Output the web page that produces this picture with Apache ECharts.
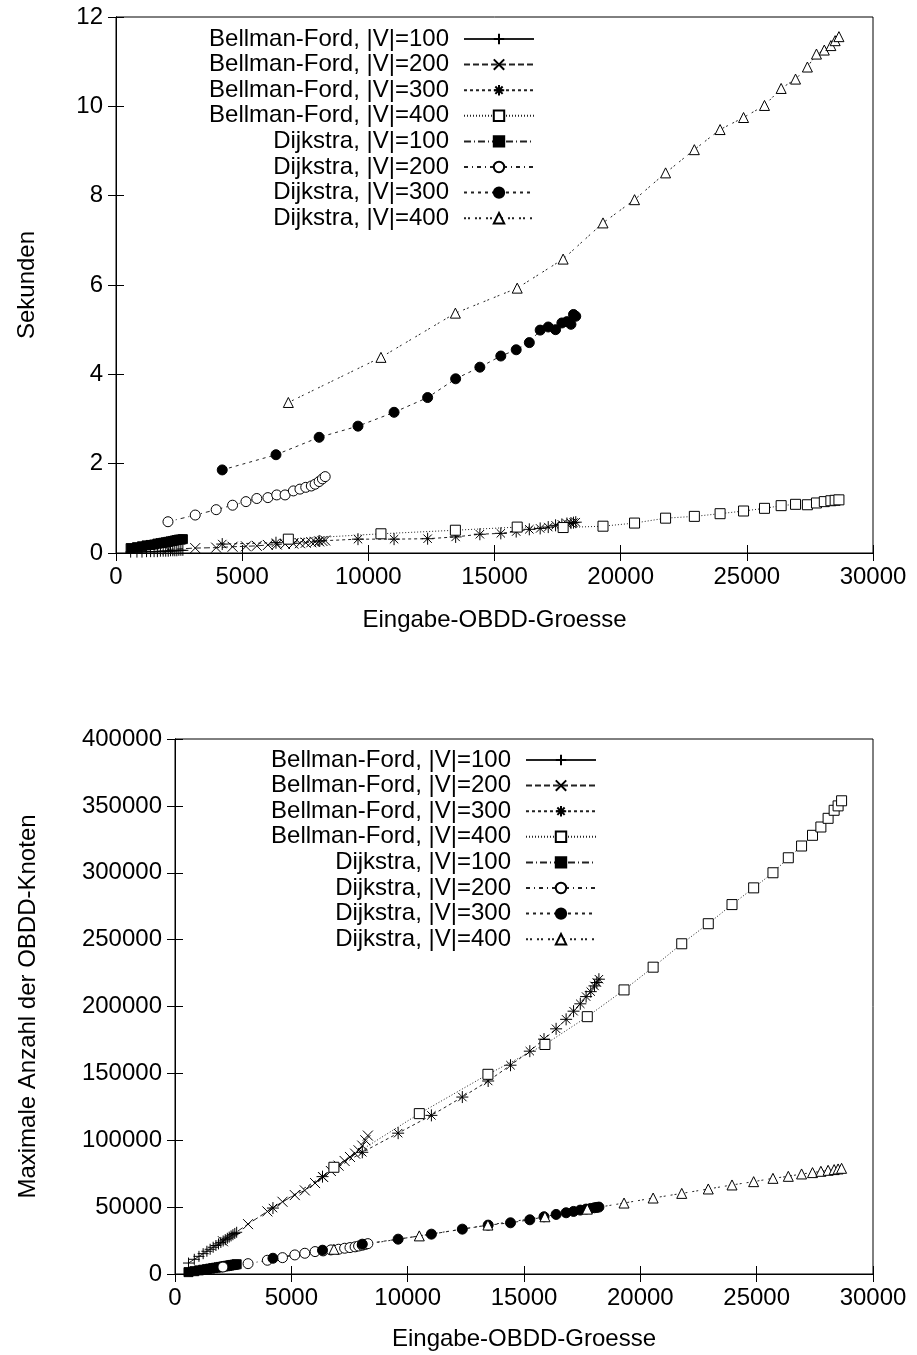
<!DOCTYPE html>
<html>
<head>
<meta charset="utf-8">
<script src="https://cdn.jsdelivr.net/npm/echarts@6/dist/echarts.min.js"></script>
<style>
  html, body { margin: 0; padding: 0; background: #fff; }
  #main { width: 917px; height: 1355px; }
</style>
</head>
<body>
<div id="main"></div>
<script>
// x-Werte (Eingabe-OBDD-Groesse) je Knotenzahl
var x100 = [580, 830, 1030, 1210, 1370, 1510, 1640, 1760, 1870, 1970, 2070, 2160, 2250, 2330, 2410, 2490, 2570, 2650];
var x200 = [2060, 3140, 3970, 4620, 5150, 5580, 6020, 6370, 6700, 7030, 7290, 7520, 7740, 7890, 8050, 8180, 8290];
var x300 = [4210, 6340, 8050, 9590, 11020, 12350, 13460, 14420, 15250, 15860, 16380, 16810, 17130, 17420, 17670, 17870, 18030, 18130, 18220];
var x400 = [6830, 10500, 13450, 15900, 17720, 19300, 20550, 21780, 22920, 23940, 24870, 25700, 26360, 26930, 27400, 27760, 28070, 28330, 28500, 28650];

// Laufzeit in Sekunden
var secBF100 = [0.02, 0.02, 0.02, 0.03, 0.03, 0.03, 0.03, 0.04, 0.04, 0.04, 0.04, 0.05, 0.05, 0.05, 0.05, 0.06, 0.06, 0.06];
var secBF200 = [0.08, 0.11, 0.12, 0.14, 0.15, 0.16, 0.18, 0.19, 0.20, 0.21, 0.22, 0.23, 0.24, 0.25, 0.26, 0.27, 0.28];
var secBF300 = [0.20, 0.23, 0.27, 0.31, 0.31, 0.32, 0.36, 0.42, 0.44, 0.48, 0.53, 0.55, 0.58, 0.62, 0.64, 0.66, 0.67, 0.68, 0.69];
var secBF400 = [0.31, 0.43, 0.51, 0.58, 0.57, 0.60, 0.67, 0.78, 0.82, 0.88, 0.94, 1.00, 1.06, 1.09, 1.08, 1.12, 1.15, 1.17, 1.18, 1.19];
var secD100 = [0.11, 0.13, 0.15, 0.17, 0.18, 0.19, 0.21, 0.22, 0.23, 0.24, 0.25, 0.26, 0.27, 0.28, 0.29, 0.30, 0.30, 0.31];
var secD200 = [0.70, 0.85, 0.97, 1.07, 1.15, 1.22, 1.24, 1.30, 1.30, 1.39, 1.43, 1.47, 1.50, 1.54, 1.60, 1.66, 1.71];
var secD300 = [1.86, 2.20, 2.59, 2.84, 3.15, 3.48, 3.90, 4.16, 4.41, 4.55, 4.71, 4.99, 5.06, 5.00, 5.15, 5.18, 5.12, 5.34, 5.30];
var secD400 = [3.37, 4.38, 5.37, 5.93, 6.58, 7.39, 7.91, 8.51, 9.03, 9.48, 9.75, 10.02, 10.40, 10.61, 10.88, 11.17, 11.26, 11.36, 11.47, 11.56];

// maximale Anzahl der OBDD-Knoten
var nodBF100 = [8200, 11000, 13200, 15200, 17000, 18500, 20000, 21300, 22500, 23600, 24700, 25700, 26700, 27600, 28500, 29400, 30300, 31200];
var nodBF200 = [24500, 37300, 46800, 54000, 59000, 62500, 68000, 72500, 77000, 81000, 84500, 87500, 90000, 92500, 96000, 100000, 103500];
var nodBF300 = [49300, 72800, 91000, 105300, 118600, 132300, 144300, 156100, 166600, 175600, 183300, 190400, 196500, 202000, 207400, 211100, 215400, 217900, 220400];
var nodBF400 = [79800, 119900, 149300, 171600, 192400, 212400, 229400, 246900, 261900, 276200, 288700, 300000, 311200, 320000, 328000, 334200, 340700, 346700, 350000, 353800];
var nodD100 = [1400, 2100, 2700, 3200, 3600, 4000, 4400, 4700, 5000, 5300, 5600, 5800, 6100, 6300, 6600, 6800, 7000, 7300];
var nodD200 = [5200, 7730, 10280, 12230, 14260, 15510, 16760, 17260, 18010, 18510, 19260, 19760, 20300, 20900, 21500, 22100, 22700];
var nodD300 = [11780, 17790, 22300, 26040, 29790, 33540, 36550, 38280, 40530, 42780, 44530, 45780, 46780, 47780, 48530, 49030, 49530, 49780, 50030];
var nodD400 = [18500, 28500, 36600, 42800, 48500, 53060, 56800, 60270, 63570, 66570, 69050, 71530, 73030, 74800, 75800, 76780, 77530, 78050, 78550, 79030];

var names = [
  "Bellman-Ford, |V|=100", "Bellman-Ford, |V|=200", "Bellman-Ford, |V|=300", "Bellman-Ford, |V|=400",
  "Dijkstra, |V|=100", "Dijkstra, |V|=200", "Dijkstra, |V|=300", "Dijkstra, |V|=400"
];

var FONT = "Liberation Sans";
var FS = 24;

// gnuplot-artige Punkt- und Linientypen
var styles = [
  { symbol: "path://M0,5L10,5M5,0L5,10", fill: "#000", size: 11, dash: "solid" },
  { symbol: "path://M0,0L10,10M10,0L0,10", fill: "#000", size: 10, dash: [6, 3] },
  { symbol: "path://M0,5L10,5M5,0L5,10M1.5,1.5L8.5,8.5M8.5,1.5L1.5,8.5", fill: "#000", size: 12, dash: [3, 3] },
  { symbol: "rect", fill: "#fff", size: 10, dash: [1, 2] },
  { symbol: "rect", fill: "#000", size: 9, dash: [7, 3, 1, 3] },
  { symbol: "circle", fill: "#fff", size: 10, dash: [4, 4, 1, 4] },
  { symbol: "circle", fill: "#000", size: 10, dash: [3, 4] },
  { symbol: "triangle", fill: "#fff", size: 10, dash: [2, 2, 2, 5] }
];

function zip(xs, ys) {
  return xs.map(function (x, i) { return [x, ys[i]]; });
}

function makeSeries(idx, lists) {
  var xs = [x100, x200, x300, x400, x100, x200, x300, x400];
  return lists.map(function (ys, i) {
    var s = styles[i];
    return {
      name: names[i],
      type: "line",
      xAxisIndex: idx * 2,
      yAxisIndex: idx * 2,
      data: zip(xs[i], ys),
      symbol: s.symbol,
      symbolSize: s.size,
      showAllSymbol: true,
      lineStyle: { color: "#222", width: 1, type: s.dash },
      itemStyle: { color: s.fill, borderColor: "#000", borderWidth: 1 },
      emphasis: { disabled: true }
    };
  });
}

function plain(v) { return String(v); }

function xAxes(grid, nameGap) {
  var base = {
    gridIndex: grid, type: "value", min: 0, max: 30000, interval: 5000,
    splitLine: { show: false },
    axisLine: { show: true, lineStyle: { color: "#000", width: 1 } },
    axisTick: { show: true, inside: true, length: 8, lineStyle: { color: "#000" } }
  };
  return [
    Object.assign({}, base, {
      position: "bottom",
      name: "Eingabe-OBDD-Groesse", nameLocation: "middle", nameGap: nameGap,
      nameTextStyle: { fontFamily: FONT, fontSize: FS, color: "#000" },
      axisLabel: { fontFamily: FONT, fontSize: FS, color: "#000", margin: 12, formatter: plain }
    }),
    Object.assign({}, base, { position: "top", axisLabel: { show: false } })
  ];
}

function yAxes(grid, max, interval, name, nameGap) {
  var base = {
    gridIndex: grid, type: "value", min: 0, max: max, interval: interval,
    splitLine: { show: false },
    axisLine: { show: true, lineStyle: { color: "#000", width: 1 } },
    axisTick: { show: true, inside: true, length: 8, lineStyle: { color: "#000" } }
  };
  return [
    Object.assign({}, base, {
      position: "left",
      name: name, nameLocation: "middle", nameGap: nameGap, nameRotate: 90,
      nameTextStyle: { fontFamily: FONT, fontSize: FS, color: "#000" },
      axisLabel: { fontFamily: FONT, fontSize: FS, color: "#000", margin: 13, formatter: plain }
    }),
    Object.assign({}, base, { position: "right", axisLabel: { show: false } })
  ];
}

function legend(right, top) {
  return {
    data: names,
    orient: "vertical",
    align: "right",
    right: right,
    top: top,
    padding: 0,
    itemWidth: 70,
    itemHeight: 13,
    itemGap: 1.6,
    selectedMode: false,
    textStyle: { fontFamily: FONT, fontSize: FS, lineHeight: 24, color: "#000", padding: [0, 10, 0, 0] }
  };
}

var chart = echarts.init(document.getElementById("main"), null, { renderer: "canvas" });

var option = {
  animation: false,
  backgroundColor: "#fff",
  grid: [
    { left: 116, top: 17, width: 757, height: 536, show: true, borderColor: "#000", borderWidth: 1, backgroundColor: "transparent" },
    { left: 175, top: 739, width: 698, height: 535, show: true, borderColor: "#000", borderWidth: 1, backgroundColor: "transparent" }
  ],
  xAxis: xAxes(0, 55).concat(xAxes(1, 53)),
  yAxis: yAxes(0, 12, 2, "Sekunden", 77).concat(yAxes(1, 400000, 50000, "Maximale Anzahl der OBDD-Knoten", 135)),
  legend: [legend(382, 27), legend(320, 748)],
  series: makeSeries(0, [secBF100, secBF200, secBF300, secBF400, secD100, secD200, secD300, secD400])
    .concat(makeSeries(1, [nodBF100, nodBF200, nodBF300, nodBF400, nodD100, nodD200, nodD300, nodD400]))
};

chart.setOption(option);
</script>
</body>
</html>
